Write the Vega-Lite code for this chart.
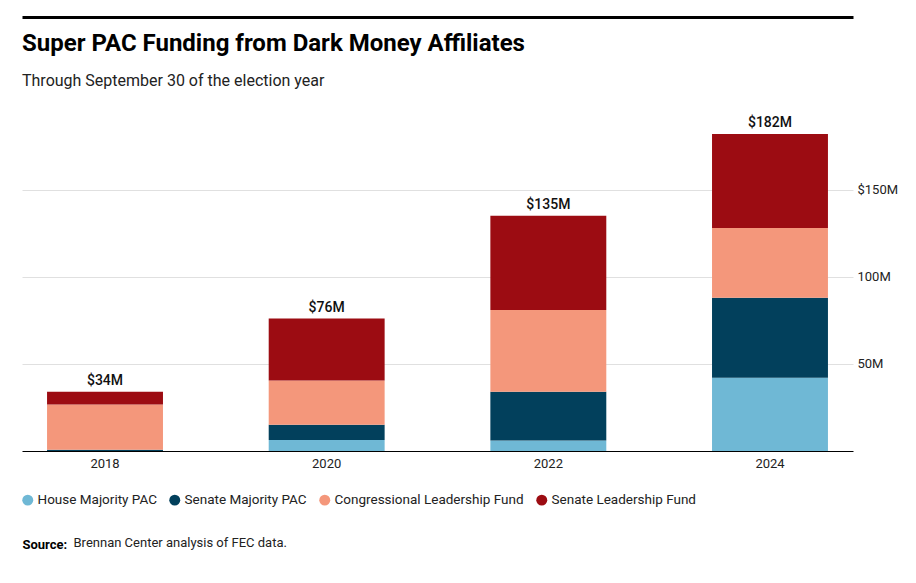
{
  "$schema": "https://vega.github.io/schema/vega-lite/v6.json",
  "width": 831,
  "height": 331,
  "autosize": {"type": "none"},
  "padding": {"left": 22, "top": 120, "right": 63, "bottom": 132},
  "background": "white",
  "title": {
    "text": "Super PAC Funding from Dark Money Affiliates",
    "subtitle": "Through September 30 of the election year",
    "anchor": "start",
    "frame": "group",
    "font": "Roboto",
    "fontSize": 24,
    "fontWeight": "bold",
    "color": "#000000",
    "subtitleFont": "Roboto",
    "subtitleFontSize": 16,
    "subtitleColor": "#222222",
    "subtitlePadding": 17,
    "offset": -72
  },
  "config": {"view": {"stroke": null}, "font": "Roboto"},
  "data": {
    "values": [
      {"year": "2018", "pac": "House Majority PAC", "value": 0},
      {"year": "2018", "pac": "Senate Majority PAC", "value": 0.7},
      {"year": "2018", "pac": "Congressional Leadership Fund", "value": 26},
      {"year": "2018", "pac": "Senate Leadership Fund", "value": 7.3},
      {"year": "2020", "pac": "House Majority PAC", "value": 6.3},
      {"year": "2020", "pac": "Senate Majority PAC", "value": 8.7},
      {"year": "2020", "pac": "Congressional Leadership Fund", "value": 25.4},
      {"year": "2020", "pac": "Senate Leadership Fund", "value": 35.6},
      {"year": "2022", "pac": "House Majority PAC", "value": 6},
      {"year": "2022", "pac": "Senate Majority PAC", "value": 28},
      {"year": "2022", "pac": "Congressional Leadership Fund", "value": 47},
      {"year": "2022", "pac": "Senate Leadership Fund", "value": 54},
      {"year": "2024", "pac": "House Majority PAC", "value": 42},
      {"year": "2024", "pac": "Senate Majority PAC", "value": 46},
      {"year": "2024", "pac": "Congressional Leadership Fund", "value": 40},
      {"year": "2024", "pac": "Senate Leadership Fund", "value": 54}
    ]
  },
  "layer": [
    {
      "transform": [
        {"calculate": "indexof(['House Majority PAC', 'Senate Majority PAC', 'Congressional Leadership Fund', 'Senate Leadership Fund'], datum.pac)", "as": "stackOrder"}
      ],
      "mark": {"type": "bar"},
      "encoding": {
        "x": {
          "field": "year",
          "type": "nominal",
          "scale": {"paddingInner": 0.477, "paddingOuter": 0.113},
          "axis": {
            "orient": "bottom",
            "labelAngle": 0,
            "labelFontSize": 13,
            "labelColor": "#222222",
            "labelPadding": 6,
            "ticks": false,
            "domainColor": "#000000",
            "domainWidth": 1,
            "grid": false,
            "title": "Source:",
            "titleFontWeight": "bold",
            "titleFontSize": 13,
            "titleColor": "#000000",
            "titleX": 0,
            "titleY": 97,
            "titleAlign": "left",
            "titleBaseline": "alphabetic"
          }
        },
        "y": {
          "field": "value",
          "type": "quantitative",
          "stack": "zero",
          "scale": {"domain": [0, 190], "nice": false},
          "axis": {
            "orient": "right",
            "values": [50, 100, 150],
            "labelExpr": "datum.value == 150 ? '$150M' : datum.value + 'M'",
            "domain": false,
            "ticks": false,
            "gridColor": "#e0e0e0",
            "labelFontSize": 13,
            "labelColor": "#222222",
            "labelPadding": 4,
            "title": "Brennan Center analysis of FEC data.",
            "titleAngle": 0,
            "titleX": -780,
            "titleY": 426,
            "titleAlign": "left",
            "titleBaseline": "alphabetic",
            "titleFontWeight": "normal",
            "titleFontSize": 13,
            "titleColor": "#222222"
          }
        },
        "order": {"field": "stackOrder", "type": "quantitative", "sort": "ascending"},
        "color": {
          "field": "pac",
          "type": "nominal",
          "sort": ["House Majority PAC", "Senate Majority PAC", "Congressional Leadership Fund", "Senate Leadership Fund"],
          "scale": {
            "domain": ["House Majority PAC", "Senate Majority PAC", "Congressional Leadership Fund", "Senate Leadership Fund"],
            "range": ["#6fb8d5", "#02405c", "#f4977b", "#9c0c12"]
          },
          "legend": {
            "orient": "none",
            "legendX": -1,
            "legendY": 373,
            "direction": "horizontal",
            "columns": 4,
            "title": null,
            "symbolType": "circle",
            "symbolSize": 120,
            "symbolStrokeWidth": 0,
            "labelFontSize": 13.5,
            "labelColor": "#222222",
            "labelOffset": 3,
            "labelLimit": 400,
            "columnPadding": 11,
            "padding": 0
          }
        }
      }
    },
    {
      "transform": [
        {"aggregate": [{"op": "sum", "field": "value", "as": "total"}], "groupby": ["year"]},
        {"calculate": "'$' + format(datum.total, '.0f') + 'M'", "as": "label"}
      ],
      "mark": {"type": "text", "dy": -7, "baseline": "alphabetic", "fontSize": 14, "fontWeight": 500, "color": "#111111"},
      "encoding": {
        "x": {
          "field": "year",
          "type": "nominal",
          "axis": {"orient": "top", "labels": false, "ticks": false, "domain": true, "domainColor": "#000000", "domainWidth": 3, "offset": 103, "title": null, "grid": false}
        },
        "y": {"field": "total", "type": "quantitative", "scale": {"domain": [0, 190], "nice": false}, "title": "Brennan Center analysis of FEC data."},
        "text": {"field": "label"}
      }
    }
  ],
  "resolve": {"axis": {"x": "independent"}}
}
